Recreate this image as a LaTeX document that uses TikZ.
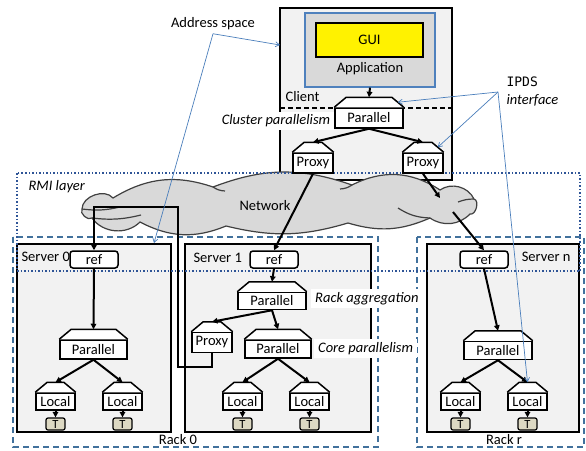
\documentclass[tikz,border=0pt]{standalone}
\usepackage{fontspec}
\setmainfont{Carlito}
\newfontfamily\ipdsfont{DejaVu Sans Mono}
\usepackage{xcolor}
\usetikzlibrary{shapes,arrows.meta,positioning,calc}

\definecolor{boxgray}{HTML}{F2F2F2}
\definecolor{appgray}{HTML}{D9D9D9}
\definecolor{cloudgray}{HTML}{D9D9D9}
\definecolor{cloudedge}{HTML}{404040}
\definecolor{rackblue}{HTML}{41719C}
\definecolor{rmiblue}{HTML}{2F5597}
\definecolor{appblue}{HTML}{4F81BD}
\definecolor{notelink}{HTML}{4A7EBB}
\definecolor{tfill}{HTML}{DDD9C3}

\tikzset{
    servbox/.style={draw, line width=1.5pt, fill=boxgray},
    rackbox/.style={draw=rackblue, line width=1.4pt, dash pattern=on 6pt off 4pt},
    roofbox/.style={draw, line width=1.5pt, fill=white, inner sep=0pt, minimum height=19pt},
    refbox/.style={draw, line width=1.5pt, fill=white, rounded corners=3pt,
        minimum width=48pt, minimum height=17pt, inner sep=0pt},
    tbox/.style={draw, line width=1.2pt, fill=tfill, rounded corners=2pt,
        minimum width=19pt, minimum height=12pt, inner sep=0pt,
        font=\fontsize{12.5}{12}\selectfont},
    flow/.style={line width=2pt, -{Triangle[length=5.5pt,width=5.5pt]}},
    note/.style={draw=notelink, line width=0.7pt, -{Straight Barb[length=4pt,width=5pt]}},
    tag/.style={fill=white, inner xsep=4pt, inner ysep=3pt,
        font=\fontsize{14.5}{16}\selectfont\itshape}
}

% roof on top of a box, with its top and slope points
\newcommand{\roof}[1]{%
    \filldraw[line width=1.5pt, fill=white]
        (#1.north west) -- ([xshift=12pt,yshift=10pt]#1.north west)
        -- ([xshift=-12pt,yshift=10pt]#1.north east) -- (#1.north east);
    \coordinate (#1-top) at ([yshift=10pt]#1.north);
    \coordinate (#1-slope) at ([xshift=-6pt,yshift=5pt]#1.north east);
}

\begin{document}
\begin{tikzpicture}[x=1pt, y=-1pt, font=\fontsize{14.5}{16}\selectfont]
    \useasboundingbox (0,0) rectangle (586,450);

    % racks
    \draw[rackbox] (13,237) rectangle (378,447);
    \draw[rackbox] (417,237) rectangle (584,447);
    \node (rack0) at (178,440) {Rack 0};
    \node (rackr) at (504,440) {Rack r};

    % servers and client
    \draw[servbox] (17,244) rectangle (171,432);
    \draw[servbox] (185,244) rectangle (371,432);
    \draw[servbox] (427,244) rectangle (579,432);
    \draw[servbox] (280,8) rectangle (452,180);
    \draw[line width=1.5pt, dash pattern=on 5pt off 3pt] (280,108) -- (452,108);

    \node[anchor=west] (serv0) at (18,257) {Server 0};
    \node[anchor=west] (serv1) at (190,258) {Server 1};
    \node[anchor=east] (servn) at (574,257) {Server n};
    \node[anchor=west] (clientlbl) at (282,97) {Client};

    % application
    \node[draw=appblue, line width=1.2pt, fill=appgray, minimum width=130pt,
        minimum height=74pt] (app) at (370,50) {};
    \node[draw, line width=1.5pt, fill=yellow, minimum width=107pt,
        minimum height=34pt] (gui) at (369.5,40) {GUI};
    \node (apptext) at (370,69) {Application};

    % network
    \filldraw[draw=cloudedge, fill=cloudgray, line width=1.2pt]
        (113,198) to[bend left=25] (213,187) to[bend left=20] (352,185)
        to[bend left=30] (440,190) to[bend left=50] (474,199)
        to[bend left=90] (470,214) to[bend left=40] (430,218)
        to[bend left=20] (348,223) to[bend left=15] (226,226)
        to[bend left=25] (140,222) to[bend left=50] (92,218)
        to[bend left=80] (82,209) to[bend left=70] (113,198) -- cycle;
    \draw[cloudedge, line width=1.2pt]
        (82,209) to[bend right=10] (120,207)
        (92,218) to[bend right=10] (141,215)
        (430,218) to[bend left=15] (398,208)
        (474,199) to[bend right=10] (458,202)
        (213,187) to[bend right=15] (225,191)
        (352,185) to[bend left=15] (340,189);
    \node (nettext) at (265,206) {Network};
    \coordinate (netin) at (440,198);
    \coordinate (netout) at (453,212);

    % RMI layer
    \draw[rmiblue, line width=1.2pt, dash pattern=on 1.5pt off 2pt] (17,173) rectangle (580,271);
    \node[anchor=west, font=\fontsize{14.5}{16}\selectfont\itshape] (rmi) at (25,187) {RMI layer};

    % client nodes
    \node[roofbox, minimum width=68pt, minimum height=20pt] (cpar) at (369,118) {Parallel};
    \node[roofbox, minimum width=40pt, minimum height=20pt] (cproxyL) at (313,163) {Proxy};
    \node[roofbox, minimum width=40pt, minimum height=20pt] (cproxyR) at (423,163) {Proxy};
    \roof{cpar} \roof{cproxyL} \roof{cproxyR}

    % server 0 nodes
    \node[refbox] (ref0) at (94,259.5) {ref};
    \node[roofbox, minimum width=67pt] (par0) at (93.5,349.5) {Parallel};
    \node[roofbox, minimum width=39pt, minimum height=17pt] (loc0a) at (55.5,401.5) {Local};
    \node[roofbox, minimum width=39pt, minimum height=17pt] (loc0b) at (122.5,401.5) {Local};
    \node[tbox] (t0a) at (55.5,424) {T};
    \node[tbox] (t0b) at (122.5,424) {T};
    \roof{par0} \roof{loc0a} \roof{loc0b}

    % server 1 nodes
    \node[refbox] (ref1) at (274,259.5) {ref};
    \node[roofbox, minimum width=68pt, minimum height=17pt] (rpar1) at (272,301) {Parallel};
    \node[roofbox, minimum width=40pt, minimum height=20pt] (prox1) at (212,342.5) {Proxy};
    \node[roofbox, minimum width=66pt, minimum height=18pt] (cpar1) at (278,349) {Parallel};
    \node[roofbox, minimum width=39pt, minimum height=17pt] (loc1a) at (242.5,401.5) {Local};
    \node[roofbox, minimum width=39pt, minimum height=17pt] (loc1b) at (309.5,401.5) {Local};
    \node[tbox] (t1a) at (242.5,424) {T};
    \node[tbox] (t1b) at (309.5,424) {T};
    \roof{rpar1} \roof{prox1} \roof{cpar1} \roof{loc1a} \roof{loc1b}

    % server n nodes
    \node[refbox] (refn) at (484,259.5) {ref};
    \node[roofbox, minimum width=68pt, minimum height=18pt] (parn) at (498,350.5) {Parallel};
    \node[roofbox, minimum width=39pt, minimum height=17pt] (locna) at (460.5,401.5) {Local};
    \node[roofbox, minimum width=39pt, minimum height=17pt] (locnb) at (527.5,401.5) {Local};
    \node[tbox] (tna) at (460.5,424) {T};
    \node[tbox] (tnb) at (527.5,424) {T};
    \roof{parn} \roof{locna} \roof{locnb}

    % flows
    \draw[flow] (app.south) -- (cpar-top);
    \draw[flow] (cpar.south) -- (cproxyL-top);
    \draw[flow] (cpar.south) -- (cproxyR-top);
    \draw[flow] (cproxyL.south) -- (ref1.north);
    \draw[flow] (cproxyR.south) -- (netin);
    \draw[flow] (netout) -- (refn.north);

    \draw[flow] (ref0.south) -- (par0-top);
    \draw[flow] (par0.south) -- (loc0a-top);
    \draw[flow] (par0.south) -- (loc0b-top);
    \draw[flow] (loc0a.south) -- (t0a.north);
    \draw[flow] (loc0b.south) -- (t0b.north);

    \draw[flow] (ref1.south) -- (rpar1-top);
    \draw[flow] (rpar1.south) -- (prox1-top);
    \draw[flow] (rpar1.south) -- (cpar1-top);
    \draw[flow] (cpar1.south) -- (loc1a-top);
    \draw[flow] (cpar1.south) -- (loc1b-top);
    \draw[flow] (loc1a.south) -- (t1a.north);
    \draw[flow] (loc1b.south) -- (t1b.north);
    \draw[flow] (prox1.south) |- (178,367) -- (178,207) -| (ref0.north);

    \draw[flow] (refn.south) -- (parn-top);
    \draw[flow] (parn.south) -- (locna-top);
    \draw[flow] (parn.south) -- (locnb-top);
    \draw[flow] (locna.south) -- (tna.north);
    \draw[flow] (locnb.south) -- (tnb.north);

    % labels
    \node[tag] (clusterlbl) at (276,121) {Cluster parallelism};
    \node[tag, anchor=west] (racklbl) at (311,298.5) {Rack aggregation};
    \node[tag, anchor=west] (corelbl) at (314,348.5) {Core parallelism};

    % notes
    \node (addrlbl) at (213,24) {Address space};
    \coordinate (clientin) at (280,45);
    \coordinate (serv0in) at (154,243);
    \draw[note] (addrlbl.south) -- (clientin);
    \draw[note] (addrlbl.south) -- (serv0in);

    \node[anchor=west, font=\fontsize{13}{15}\selectfont\ipdsfont] (ipdslbl) at (503,82) {IPDS};
    \node[anchor=west, font=\fontsize{14.5}{16}\selectfont\itshape] (ifacelbl) at (503,100) {interface};
    \coordinate (ipdsfork) at (498,92);
    \draw[note] (ipdsfork) -- (cpar-slope);
    \draw[note] (ipdsfork) -- (cproxyR-slope);
    \draw[note] (ipdsfork) -- (locnb-top);
\end{tikzpicture}
\end{document}
